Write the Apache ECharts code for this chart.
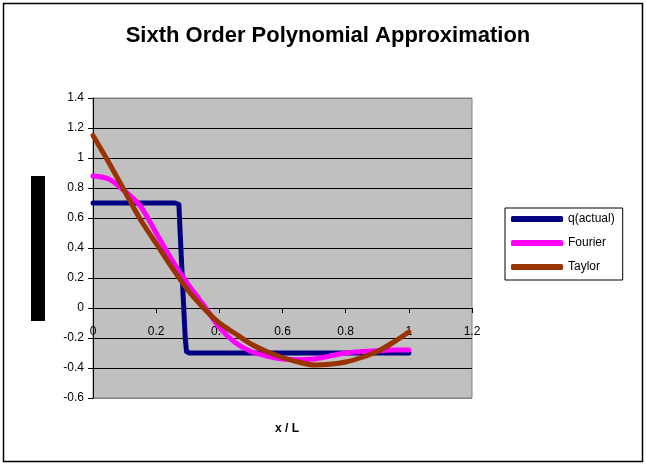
<!DOCTYPE html>
<html>
<head>
<meta charset="utf-8">
<script src="https://cdn.jsdelivr.net/npm/echarts@6/dist/echarts.min.js"></script>
<style>
html,body{margin:0;padding:0;background:#fff;}
#c{width:646px;height:465px;}
</style>
</head>
<body>
<div id="c"></div>
<script>
const titleText = 'Sixth Order Polynomial Approximation';
const xAxisTitle = 'x / L';
const seriesNames = ['q(actual)', 'Fourier', 'Taylor'];

const xs = [0,0.05,0.1,0.15,0.2,0.25,0.3,0.35,0.4,0.45,0.5,0.55,0.6,0.65,0.7,0.75,0.8,0.85,0.9,0.95,1.0];
const fourierY = [0.88,0.86,0.78,0.68,0.50,0.32,0.16,0.02,-0.13,-0.23,-0.29,-0.32,-0.34,-0.345,-0.34,-0.32,-0.30,-0.29,-0.285,-0.28,-0.28];
const taylorY = [1.15,0.97,0.78,0.59,0.43,0.27,0.12,0.00,-0.10,-0.17,-0.24,-0.29,-0.33,-0.36,-0.38,-0.375,-0.36,-0.33,-0.29,-0.23,-0.16];

const actualX = [0,0.26,0.265,0.272,0.276,0.285,0.292,0.296,0.305,1.0];
const actualY = [0.7,0.7,0.71,0.69,0.5,0.1,-0.2,-0.29,-0.3,-0.3];

const yTicks = [-0.6,-0.4,-0.2,0,0.2,0.4,0.6,0.8,1,1.2,1.4];

const zip = (a, b) => a.map((v, i) => [v, b[i]]);

const chart = echarts.init(document.getElementById('c'), null, {renderer: 'canvas'});
const font = 'Liberation Sans, Arial, sans-serif';
const splitColors = yTicks.map((v, i) => (i === 0 || i === yTicks.length - 1) ? '#808080' : '#000000');

chart.setOption({
  animation: false,
  backgroundColor: '#ffffff',
  title: [
    {text: titleText, left: 323, top: 20, textAlign: 'center',
     textStyle: {fontFamily: font, fontSize: 22, fontWeight: 'bold', color: '#000'}},
    {text: xAxisTitle, left: 282, top: 418, textAlign: 'center',
     textStyle: {fontFamily: font, fontSize: 12, fontWeight: 'bold', color: '#000'}}
  ],
  graphic: [
    {type: 'rect', shape: {x: 3.5, y: 3.5, width: 639, height: 458},
     style: {fill: null, stroke: '#000', lineWidth: 1.5}, z: 100},
    {type: 'rect', shape: {x: 31, y: 176, width: 14, height: 145},
     style: {fill: '#000'}}
  ],
  legend: {
    orient: 'vertical', left: 505, top: 208,
    data: seriesNames,
    icon: 'roundRect', itemWidth: 52, itemHeight: 6, itemGap: 12,
    padding: [5, 8, 7, 6],
    borderColor: '#000', borderWidth: 1, backgroundColor: '#fff',
    textStyle: {fontFamily: font, fontSize: 12, color: '#000', width: 62}
  },
  grid: {left: 93, top: 98, width: 379, height: 300, show: true,
    backgroundColor: '#C0C0C0', borderColor: '#808080', borderWidth: 1},
  xAxis: {
    type: 'value', min: 0, max: 1.2, interval: 0.2,
    axisLine: {show: true, onZero: true, lineStyle: {color: '#000', width: 1}},
    axisTick: {show: true, inside: false, length: 5, lineStyle: {color: '#000'}},
    axisLabel: {fontFamily: font, fontSize: 12, color: '#000', margin: -72,
      formatter: v => String(Math.round(v * 10) / 10)},
    splitLine: {show: false}
  },
  yAxis: {
    type: 'value', min: -0.6, max: 1.4, interval: 0.2,
    axisLine: {show: true, lineStyle: {color: '#000', width: 1}},
    axisTick: {show: true, inside: false, length: 5, lineStyle: {color: '#000'}},
    axisLabel: {fontFamily: font, fontSize: 12, color: '#000', margin: 9,
      formatter: v => String(Math.round(v * 10) / 10)},
    splitLine: {show: true, lineStyle: {color: splitColors, width: 1}}
  },
  series: [
    {name: seriesNames[0], type: 'line', data: zip(actualX, actualY), showSymbol: false,
     color: '#000080', lineStyle: {width: 5, cap: 'round', join: 'round'}},
    {name: seriesNames[1], type: 'line', data: zip(xs, fourierY), showSymbol: false, smooth: 0.3,
     color: '#FF00FF', lineStyle: {width: 5, cap: 'round', join: 'round'}},
    {name: seriesNames[2], type: 'line', data: zip(xs, taylorY), showSymbol: false, smooth: 0.3,
     color: '#993300', lineStyle: {width: 5, cap: 'round', join: 'round'}}
  ]
});
</script>
</body>
</html>
